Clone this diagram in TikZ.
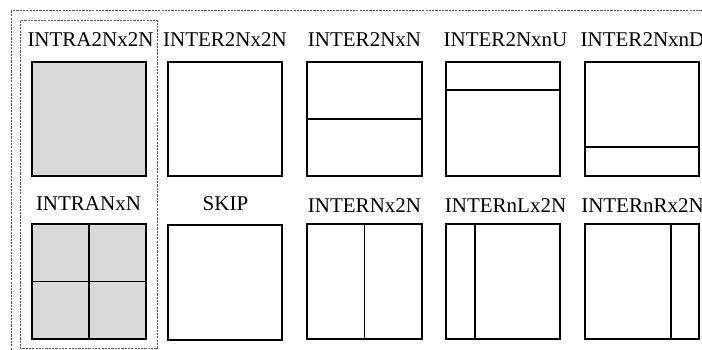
\documentclass[tikz,border=0pt]{standalone}
\usepackage{fontspec}
\setmainfont{Liberation Serif}
\usetikzlibrary{calc}
\definecolor{gfill}{HTML}{D9D9D9}
\begin{document}
\begin{tikzpicture}[x=1pt,y=-1pt,
  lbl/.style={font=\fontsize{21}{25}\selectfont, anchor=base, inner sep=0pt},
  blk/.style={draw=black, line width=1.9pt, minimum width=114.3pt, minimum height=114.3pt,
              inner sep=0pt, outer sep=0pt, anchor=north west},
  divl/.style={draw=black, line width=1.9pt},
  grp/.style={draw=black!65, line width=1pt, dash pattern=on 2.2pt off 1.1pt}
]
\useasboundingbox (0,0) rectangle (702,350);
\clip (0,0) rectangle (702,350);

% group frames
\draw[grp] (11,11) rectangle (720,370);
\draw[grp] (20,20.7) rectangle (157.7,348.3);

% row 1
\node[blk, fill=gfill] (a1) at (31.7,61.7) {};
\node[blk] (a2) at (167.7,61.7) {};
\node[blk] (a3) at (307.3,61.7) {};
\node[blk] (a4) at (446,61.7) {};
\node[blk] (a5) at (585,61.7) {};

\draw[divl] (a3.west) -- (a3.east);
\draw[divl] ($(a4.north west)!0.25!(a4.south west)$) -- ($(a4.north east)!0.25!(a4.south east)$);
\draw[divl] ($(a5.north west)!0.75!(a5.south west)$) -- ($(a5.north east)!0.75!(a5.south east)$);

\node[lbl] (t1) at (90.5,46.5) {INTRA2Nx2N};
\node[lbl] (t2) at (225,46.5) {INTER2Nx2N};
\node[lbl] (t3) at (364.5,46.5) {INTER2NxN};
\node[lbl] (t4) at (505.5,46.5) {INTER2NxnU};
\node[lbl] (t5) at (642.5,46.5) {INTER2NxnD};

% row 2
\node[blk, fill=gfill] (b1) at (31.7,224.3) {};
\node[blk] (b2) at (167.7,225.3) {};
\node[blk] (b3) at (307.3,224.3) {};
\node[blk] (b4) at (446,224.3) {};
\node[blk] (b5) at (585,224.3) {};

\draw[divl] (b1.north) -- (b1.south);
\draw[divl] (b1.west) -- (b1.east);
\draw[divl] (b3.north) -- (b3.south);
\draw[divl] ($(b4.north west)!0.25!(b4.north east)$) -- ($(b4.south west)!0.25!(b4.south east)$);
\draw[divl] ($(b5.north west)!0.75!(b5.north east)$) -- ($(b5.south west)!0.75!(b5.south east)$);

\node[lbl] (u1) at (88.5,211) {INTRANxN};
\node[lbl] (u2) at (225.5,211) {SKIP};
\node[lbl] (u3) at (364.5,212) {INTERNx2N};
\node[lbl] (u4) at (505.5,212) {INTERnLx2N};
\node[lbl] (u5) at (642.5,212) {INTERnRx2N};
\end{tikzpicture}
\end{document}
